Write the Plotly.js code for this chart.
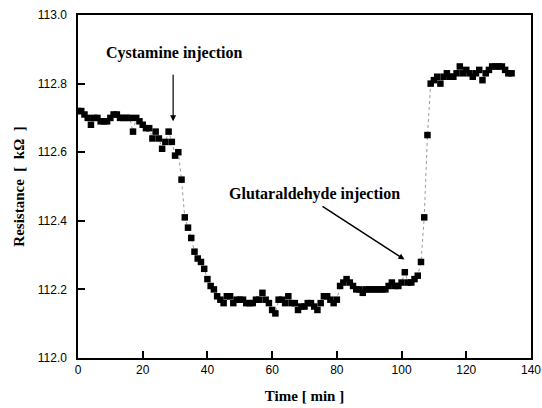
<!DOCTYPE html>
<html>
<head>
<meta charset="utf-8">
<script src="https://cdn.plot.ly/plotly-3.0.1.min.js"></script>
<style>html,body{margin:0;padding:0;background:#fff;}#chart{width:542px;height:408px;}.modebar-container{display:none !important;}</style>
</head>
<body>
<div id="chart"></div>
<script>
// Time [min]
var timeMin = [];
for (var t = 0; t <= 134; t++) timeMin.push(t);
// Resistance [kOhm]
var resistance = [
  112.72,112.72,112.71,112.70,112.68,112.70,112.70,112.69,112.69,112.69,
  112.70,112.71,112.71,112.70,112.70,112.70,112.70,112.66,112.70,112.69,
  112.68,112.67,112.67,112.64,112.66,112.64,112.61,112.63,112.66,112.63,
  112.59,112.60,112.52,112.41,112.38,112.35,112.31,112.29,112.28,112.26,
  112.23,112.21,112.20,112.18,112.17,112.16,112.18,112.18,112.16,112.17,
  112.17,112.17,112.16,112.16,112.16,112.17,112.17,112.19,112.17,112.16,
  112.14,112.13,112.17,112.17,112.16,112.18,112.16,112.16,112.14,112.15,
  112.15,112.16,112.16,112.15,112.14,112.16,112.18,112.18,112.17,112.16,
  112.17,112.21,112.22,112.23,112.22,112.21,112.20,112.20,112.19,112.20,
  112.20,112.20,112.20,112.20,112.20,112.20,112.21,112.22,112.21,112.21,
  112.22,112.25,112.22,112.22,112.23,112.24,112.28,112.41,112.65,112.80,
  112.81,112.82,112.80,112.82,112.83,112.82,112.82,112.83,112.85,112.83,
  112.84,112.83,112.82,112.83,112.84,112.81,112.83,112.84,112.85,112.85,
  112.85,112.85,112.84,112.83,112.83
];
var xTickStep = 20;
var yTickStep = 0.2;

var serif = "Liberation Serif, Times New Roman, serif";
var sans = "Liberation Sans, Arial, sans-serif";

var trace = {
  x: timeMin, y: resistance, type: 'scatter', mode: 'lines+markers',
  line: {color: '#555', width: 0.6, dash: 'dot'},
  marker: {symbol: 'square', size: 6.5, color: '#000'},
  showlegend: false
};

var layout = {
  width: 542, height: 408,
  margin: {l: 78, r: 11, t: 15, b: 50},
  xaxis: {
    range: [0, 140], dtick: xTickStep,
    ticks: 'inside', ticklen: 7, tickwidth: 2, tickcolor: '#000',
    showline: true, linewidth: 2, linecolor: '#000', mirror: true,
    showgrid: false, zeroline: false,
    tickfont: {family: sans, size: 12, color: '#000'},
    title: {text: 'Time\u00A0[\u00A0min\u00A0]', font: {family: serif, size: 15, color: '#000', weight: 'bold'}, standoff: 14}
  },
  yaxis: {
    range: [112.0, 113.0], dtick: yTickStep, tickformat: '.1f', ticksuffix: '\u00A0\u00A0',
    ticks: 'inside', ticklen: 7, tickwidth: 2, tickcolor: '#000',
    showline: true, linewidth: 2, linecolor: '#000', mirror: true,
    showgrid: false, zeroline: false,
    tickfont: {family: sans, size: 12, color: '#000'},
    title: {text: 'Resistance\u00A0\u00A0[\u00A0\u00A0kΩ\u00A0\u00A0]', font: {family: serif, size: 15, color: '#000', weight: 'bold'}, standoff: 10}
  },
  annotations: [
    {x: 29.4, y: 112.69, ax: 29.4, ay: 112.83, axref: 'x', ayref: 'y', xref: 'x', yref: 'y',
     showarrow: true, arrowhead: 2, arrowsize: 1, arrowwidth: 1.2, arrowcolor: '#000', text: ''},
    {x: 29.9, y: 112.888, xref: 'x', yref: 'y', showarrow: false, text: '<b>Cystamine injection</b>',
     font: {family: serif, size: 16, color: '#000'}},
    {x: 100.9, y: 112.287, ax: 75.1, ay: 112.445, axref: 'x', ayref: 'y', xref: 'x', yref: 'y',
     showarrow: true, arrowhead: 2, arrowsize: 0.8, arrowwidth: 1.5, arrowcolor: '#000', text: ''},
    {x: 73.0, y: 112.478, xref: 'x', yref: 'y', showarrow: false, text: '<b>Glutaraldehyde injection</b>',
     font: {family: serif, size: 16, color: '#000'}}
  ]
};

Plotly.newPlot('chart', [trace], layout);
</script>
</body>
</html>
